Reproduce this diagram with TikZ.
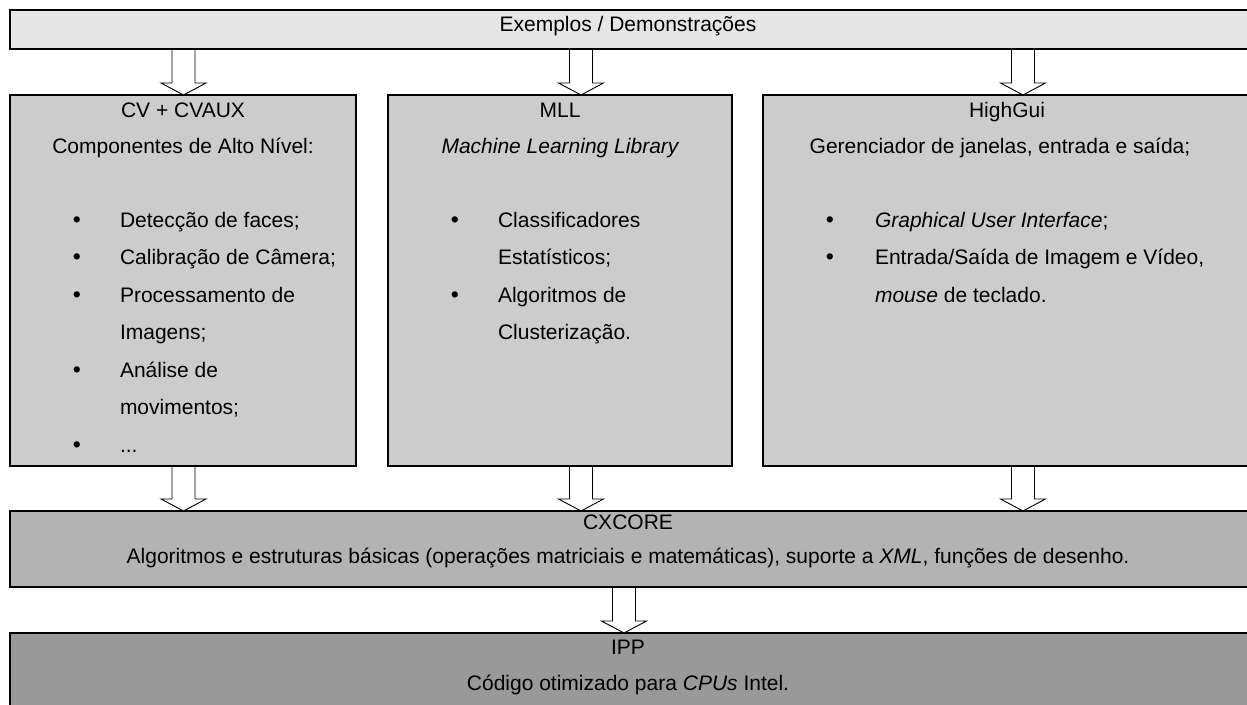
\documentclass[tikz,border=0pt]{standalone}
\usepackage{fontspec}
\setmainfont{Liberation Sans}
\usetikzlibrary{calc}

\definecolor{topgray}{HTML}{E6E6E6}
\definecolor{midgray}{HTML}{CCCCCC}
\definecolor{coregray}{HTML}{B3B3B3}
\definecolor{ippgray}{HTML}{999999}

\pgfdeclarelayer{under}
\pgfsetlayers{under,main}

\tikzset{
  panel/.style={draw=black, line width=1.7pt, inner sep=0pt, outer sep=0pt, anchor=north west},
  hollow/.style={draw=black, line width=0.9pt, fill=white, line join=miter},
  lbl/.style={inner sep=0pt, outer sep=0pt, anchor=base, font=\fontsize{21}{25}\selectfont},
  item/.style={lbl, anchor=base west},
  dot/.style={lbl, font=\fontsize{23}{25}\selectfont},
}

% hollow block arrow: #1 column coordinate, #2 upper node, #3 lower node
\newcommand\blockarrow[3]{%
  \draw[hollow]
    ([xshift=-11.5pt]#2.south -| #1) --
    ([xshift=-11.5pt,yshift=12pt]#3.north -| #1) --
    ([xshift=-22.5pt,yshift=12pt]#3.north -| #1) --
    (#3.north -| #1) --
    ([xshift=22.5pt,yshift=12pt]#3.north -| #1) --
    ([xshift=11.5pt,yshift=12pt]#3.north -| #1) --
    ([xshift=11.5pt]#2.south -| #1) -- cycle;
}

\begin{document}
\begin{tikzpicture}[x=1pt, y=-1pt]
  \useasboundingbox (0,0) rectangle (1247,704);
  \clip (0,0) rectangle (1247,704);

  % panels
  \node[panel, fill=topgray, minimum width=1242pt, minimum height=39pt] (demo) at (10,10) {};
  \node[panel, fill=midgray, minimum width=346pt, minimum height=371pt] (cv) at (10,95) {};
  \node[panel, fill=midgray, minimum width=344pt, minimum height=371pt] (mll) at (388,95) {};
  \node[panel, fill=midgray, minimum width=489pt, minimum height=371pt] (hg) at (763,95) {};
  \node[panel, fill=coregray, minimum width=1242pt, minimum height=76pt] (cx) at (10,511) {};
  \node[panel, fill=ippgray, minimum width=1242pt, minimum height=90pt] (ipp) at (10,633) {};

  % arrow columns
  \coordinate (colA) at (183.5,0);
  \coordinate (colB) at (581,0);
  \coordinate (colC) at (1023,0);
  \coordinate (colD) at (624,0);

  \begin{pgfonlayer}{under}
    \blockarrow{colA}{demo}{cv}
    \blockarrow{colB}{demo}{mll}
    \blockarrow{colC}{demo}{hg}
    \blockarrow{colA}{cv}{cx}
    \blockarrow{colB}{mll}{cx}
    \blockarrow{colC}{hg}{cx}
    \blockarrow{colD}{cx}{ipp}
  \end{pgfonlayer}

  % top bar
  \node[lbl] (demoT) at (628,31) {Exemplos / Demonstrações};

  % CV + CVAUX
  \node[lbl] (cvT1) at (183,117) {CV + CVAUX};
  \node[lbl] (cvT2) at (183,153) {Componentes de Alto Nível:};
  \node[dot] (cvB1) at (77,227) {\textbullet};
  \node[item] (cvI1) at (120,227) {Detecção de faces;};
  \node[dot] (cvB2) at (77,264.5) {\textbullet};
  \node[item] (cvI2) at (120,264.5) {Calibração de Câmera;};
  \node[dot] (cvB3) at (77,302) {\textbullet};
  \node[item] (cvI3) at (120,302) {Processamento de};
  \node[item] (cvI3b) at (120,339.5) {Imagens;};
  \node[dot] (cvB4) at (77,377) {\textbullet};
  \node[item] (cvI4) at (120,377) {Análise de};
  \node[item] (cvI4b) at (120,414.5) {movimentos;};
  \node[dot] (cvB5) at (77,452) {\textbullet};
  \node[item] (cvI5) at (120,452) {...};

  % MLL
  \node[lbl] (mlT1) at (560,117) {MLL};
  \node[lbl] (mlT2) at (560,153) {\itshape Machine Learning Library};
  \node[dot] (mlB1) at (455,227) {\textbullet};
  \node[item] (mlI1) at (498,227) {Classificadores};
  \node[item] (mlI1b) at (498,264.5) {Estatísticos;};
  \node[dot] (mlB2) at (455,302) {\textbullet};
  \node[item] (mlI2) at (498,302) {Algoritmos de};
  \node[item] (mlI2b) at (498,339.5) {Clusterização.};

  % HighGui
  \node[lbl] (hgT1) at (1007,117) {HighGui};
  \node[lbl] (hgT2) at (1000,153) {Gerenciador de janelas, entrada e saída;};
  \node[dot] (hgB1) at (830,227) {\textbullet};
  \node[item] (hgI1) at (875,227) {\textit{Graphical User Interface};};
  \node[dot] (hgB2) at (830,264.5) {\textbullet};
  \node[item] (hgI2) at (875,264.5) {Entrada/Saída de Imagem e Vídeo,};
  \node[item] (hgI2b) at (875,302) {\textit{mouse} de teclado.};

  % CXCORE
  \node[lbl] (cxT1) at (628,529) {CXCORE};
  \node[lbl] (cxT2) at (628,563) {Algoritmos e estruturas básicas (operações matriciais e matemáticas), suporte a \textit{XML}, funções de desenho.};

  % IPP
  \node[lbl] (ipT1) at (628,654) {IPP};
  \node[lbl] (ipT2) at (628,690) {Código otimizado para \textit{CPUs} Intel.};
\end{tikzpicture}
\end{document}
